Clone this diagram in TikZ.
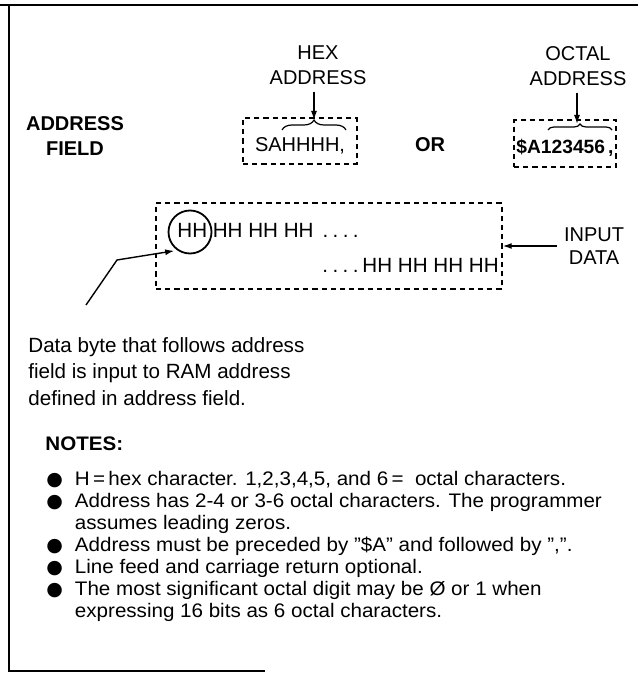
\documentclass[tikz,border=0pt]{standalone}
\usepackage{fontspec}
\setmainfont{Liberation Sans}
\newfontfamily\notefont[FakeStretch=1.05,Ligatures=TeX]{Liberation Sans}
\newfontfamily\bulfont{DejaVu Sans}
\usetikzlibrary{arrows.meta,decorations.pathreplacing}
\newcommand{\spdots}{.\hspace{2.2pt}.\hspace{2.2pt}.\hspace{2.2pt}.}
\newcommand{\blt}{{\bulfont\fontsize{9.5}{9}\selectfont ●}}

\begin{document}
\begin{tikzpicture}[x=0.5pt,y=-0.5pt,lbl/.style={font=\fontsize{10}{12.5}\selectfont,align=center},dbox/.style={draw,dash pattern=on 2.6pt off 2pt,line width=.7pt},a/.style={-{Latex[length=4.5pt,width=3pt]},line width=.7pt},br/.style={decorate,decoration={brace,amplitude=#1},line width=.6pt}]
\useasboundingbox (0,0) rectangle (638,673);
\draw[line width=1.1pt] (0,5) -- (638,5);
\draw[line width=1.1pt] (9,5) -- (9,671) -- (265,671);
% address field row
\node[lbl,font=\fontsize{10}{12.5}\selectfont\bfseries] (addr) at (75,136) {ADDRESS\\FIELD};
\node[lbl] (hexlbl) at (318,65) {HEX\\ADDRESS};
\node[lbl] (octlbl) at (578,66) {OCTAL\\ADDRESS};
\node[dbox,minimum width=57pt,minimum height=23pt,inner sep=0pt,text height=11pt,text depth=0pt,font=\fontsize{10}{12}\selectfont] (hexbox) at (300,141) {SAHHHH,};
\node[font=\fontsize{10}{12}\selectfont\bfseries] (orlbl) at (430,145) {OR};
\node[dbox,minimum width=51pt,minimum height=23.5pt,inner sep=0pt,text height=10.5pt,text depth=0pt,font=\fontsize{9.6}{12}\selectfont\bfseries] (octbox) at (565,143.5) {\$A123456\,,};
\draw[br=5pt] (282,130) -- (346,130);
\draw[br=3pt] (548,130) -- (612,130);
\coordinate (hextip) at (314,120);
\coordinate (octtip) at (577,124);
\draw[a] (hexlbl.south -| hextip) -- (hextip);
\draw[a] (octlbl.south -| octtip) -- (octtip);
% input data
\node[dbox,minimum width=173pt,minimum height=43pt] (databox) at (329,246) {};
\node[anchor=base west,inner sep=0pt,font=\fontsize{10.3}{12}\selectfont] (row1) at (177,238) {HH HH HH HH\hspace{4.5pt}\spdots};
\node[anchor=base west,inner sep=0pt,font=\fontsize{10.3}{12}\selectfont] (row2) at (322,272) {\spdots\hspace{2pt}HH HH HH HH};
\node[circle,draw,line width=.9pt,minimum size=21.5pt,inner sep=0pt] (firsthh) at (190,232) {};
\node[lbl,font=\fontsize{10}{11.5}\selectfont] (inlbl) at (594,246) {INPUT\\DATA};
\draw[a] (inlbl.west) -- (databox.east |- inlbl.west);
\coordinate (ldstart) at (86,305);
\coordinate (ldbend) at (117,260);
\draw[a,shorten >=1.5pt] (ldstart) -- (ldbend) -- (firsthh.235);
\node[anchor=north west,inner sep=0pt,align=left,font=\fontsize{10.3}{13.25}\selectfont] (byte) at (28,337) {Data byte that follows address\\field is input to RAM address\\defined in address field.};
% notes
\node[anchor=base west,inner sep=0pt,font=\notefont\fontsize{9.8}{11}\selectfont\bfseries] (notes) at (45,450) {NOTES:};
\node[anchor=north west,inner sep=0pt,font=\notefont\fontsize{9.8}{11}\selectfont] (notelist) at (46,470) {\begin{tabular}{@{}l@{\hspace{6pt}}l@{}}
\blt & H\,=\,hex character. 1,2,3,4,5, and 6\,=\ \ octal characters.\\
\blt & Address has 2-4 or 3-6 octal characters. The programmer\\
 & assumes leading zeros.\\
\blt & Address must be preceded by ''\$A'' and followed by '',''.\\
\blt & Line feed and carriage return optional.\\
\blt & The most significant octal digit may be Ø or 1 when\\
 & expressing 16 bits as 6 octal characters.
\end{tabular}};
\end{tikzpicture}
\end{document}
